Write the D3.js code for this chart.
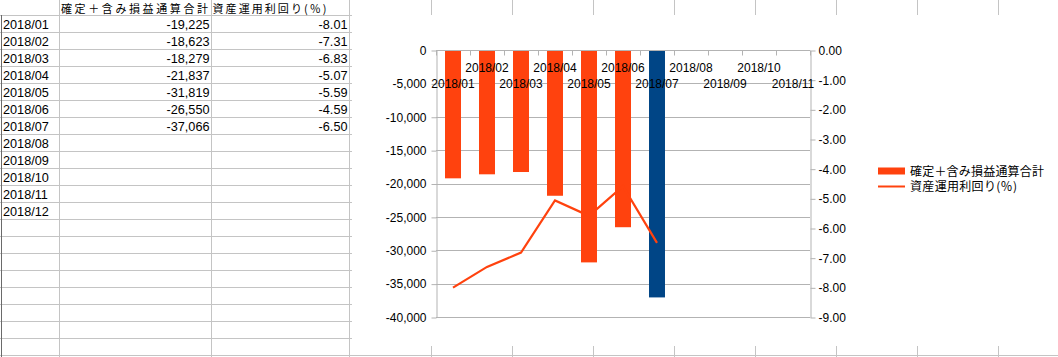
<!DOCTYPE html>
<html><head><meta charset="utf-8">
<script src="https://cdn.jsdelivr.net/npm/d3@7"></script>
<style>
html,body{margin:0;padding:0;background:#fff;}
svg{display:block;}
text{font-family:"Liberation Sans","Noto Sans CJK JP",sans-serif;}
text.jp{font-family:"Noto Sans CJK JP","Liberation Sans",sans-serif;}
</style></head>
<body>
<svg id="c" width="1058" height="357"></svg>
<script>
// ---- data ----
const months = ["2018/01","2018/02","2018/03","2018/04","2018/05","2018/06","2018/07","2018/08","2018/09","2018/10","2018/11","2018/12"];
const profit = [-19225,-18623,-18279,-21837,-31819,-26550,-37066];
const yieldPct = [-8.01,-7.31,-6.83,-5.07,-5.59,-4.59,-6.50];
const headerProfit = "確定＋含み損益通算合計";
const headerYield = "資産運用利回り(\uFF05)";
const chartCategories = months.slice(0, 11);
const leftTicks = [0,-5000,-10000,-15000,-20000,-25000,-30000,-35000,-40000];
const rightTicks = [0,-1,-2,-3,-4,-5,-6,-7,-8,-9];
const highlightIndex = 6;

const loc = d3.formatLocale({decimal:".", thousands:",", grouping:[3], currency:["",""], minus:"-"});
const fmtInt = loc.format(",");
const fmt2 = loc.format(".2f");

const svg = d3.select("#c");
const ORANGE = "#ff420e", BLUE = "#004586", GRID = "#b3b3b3";

// ---- spreadsheet background ----
const sheet = svg.append("g");
const rowY = d3.range(0, 21).map(k => 15.5 + 17 * k);
sheet.selectAll("line.r").data(rowY).join("line")
  .attr("x1", 0).attr("x2", 1058).attr("y1", d => d).attr("y2", d => d)
  .attr("stroke", "#c4c4c4");
const colX = [59.5, 211.5, 349.5, 431.5, 512.5, 593.5, 674.5, 755.5, 836.5, 917.5, 998.5];
sheet.selectAll("line.c").data(colX).join("line")
  .attr("x1", d => d).attr("x2", d => d).attr("y1", 0).attr("y2", 357)
  .attr("stroke", "#c4c4c4");
sheet.append("line").attr("x1", 1.5).attr("x2", 1.5).attr("y1", 15).attr("y2", 357)
  .attr("stroke", "#6a6a6a");

const cellFont = "12.7px";
sheet.append("text").attr("class", "jp").attr("x", 61).attr("y", 12.8).attr("font-size", "11px")
  .attr("textLength", 147).attr("lengthAdjust", "spacing").text(headerProfit);
sheet.append("text").attr("class", "jp").attr("x", 212.5).attr("y", 12.8).attr("font-size", "11px")
  .attr("textLength", 114).attr("lengthAdjust", "spacing").text(headerYield);
months.forEach((m, i) => {
  const base = 15.3 + 17 * i + 13.3;
  sheet.append("text").attr("x", 3).attr("y", base).attr("font-size", cellFont).text(m);
  if (i < profit.length) {
    sheet.append("text").attr("x", 209.5).attr("y", base).attr("font-size", cellFont)
      .attr("text-anchor", "end").text(fmtInt(profit[i]));
    sheet.append("text").attr("x", 347.5).attr("y", base).attr("font-size", cellFont)
      .attr("text-anchor", "end").text(fmt2(yieldPct[i]));
  }
});

// ---- chart object ----
const chart = svg.append("g");
chart.append("rect").attr("x", 352).attr("y", 15).attr("width", 706).attr("height", 331).attr("fill", "#fff");

const x = d3.scaleBand().domain(chartCategories).range([436, 810]).paddingInner(0.53).paddingOuter(0.265);
const yL = d3.scaleLinear().domain([-40000, 0]).range([317, 50]);
const yR = d3.scaleLinear().domain([-9, 0]).range([317, 50]);

// gridlines
chart.selectAll("line.g").data(leftTicks).join("line")
  .attr("x1", 436).attr("x2", 810)
  .attr("y1", d => Math.round(yL(d)) + 0.5).attr("y2", d => Math.round(yL(d)) + 0.5)
  .attr("stroke", GRID);

// left axis
const axL = chart.append("g").attr("transform", "translate(436.5,0.5)")
  .call(d3.axisLeft(yL).tickValues(leftTicks).tickFormat(fmtInt).tickSize(5).tickPadding(5).tickSizeOuter(0));
// right axis
const axR = chart.append("g").attr("transform", "translate(810.5,0.5)")
  .call(d3.axisRight(yR).tickValues(rightTicks).tickFormat(fmt2).tickSize(5).tickPadding(3).tickSizeOuter(0));
[axL, axR].forEach(a => {
  a.select(".domain").attr("stroke", GRID);
  a.selectAll(".tick line").attr("stroke", GRID);
  a.selectAll("text").attr("font-size", "12px").attr("fill", "#000")
    .attr("font-family", "Liberation Sans, sans-serif");
});

// bars
chart.selectAll("rect.bar").data(profit).join("rect")
  .attr("x", (d, i) => x(chartCategories[i]))
  .attr("width", x.bandwidth())
  .attr("y", yL(0))
  .attr("height", d => yL(d) - yL(0))
  .attr("fill", (d, i) => i === highlightIndex ? BLUE : ORANGE);

// top category axis
const axX = chart.append("g").attr("transform", "translate(0,50.5)");
axX.append("line").attr("x1", 436).attr("x2", 810).attr("y1", 0).attr("y2", 0).attr("stroke", GRID);
const bounds = chartCategories.map(c => x(c) - x.step() * x.paddingInner() / 2).concat([810]);
axX.selectAll("line.t").data(bounds).join("line")
  .attr("x1", d => Math.round(d) + 0.5).attr("x2", d => Math.round(d) + 0.5)
  .attr("y1", 0).attr("y2", 5).attr("stroke", GRID);
axX.selectAll("text").data(chartCategories).join("text")
  .attr("x", d => x(d) + x.bandwidth() / 2)
  .attr("y", (d, i) => i % 2 === 0 ? 37.5 : 21.5)
  .attr("text-anchor", "middle").attr("font-size", "12px").attr("fill", "#000")
  .text(d => d);

// line
const line = d3.line().x((d, i) => x(chartCategories[i]) + x.bandwidth() / 2).y(d => yR(d));
chart.append("path").datum(yieldPct).attr("d", line)
  .attr("fill", "none").attr("stroke", ORANGE).attr("stroke-width", 2.2);

// legend
const lg = chart.append("g");
lg.append("rect").attr("x", 878).attr("y", 167.5).attr("width", 27).attr("height", 7).attr("fill", ORANGE);
lg.append("line").attr("x1", 878).attr("x2", 905).attr("y1", 186.5).attr("y2", 186.5)
  .attr("stroke", ORANGE).attr("stroke-width", 2);
lg.append("text").attr("class", "jp").attr("x", 910).attr("y", 175.5).attr("font-size", "12px")
  .attr("textLength", 134).attr("lengthAdjust", "spacing").text(headerProfit);
lg.append("text").attr("class", "jp").attr("x", 910).attr("y", 191).attr("font-size", "12px")
  .attr("textLength", 107).attr("lengthAdjust", "spacing").text(headerYield);
</script>
</body></html>
